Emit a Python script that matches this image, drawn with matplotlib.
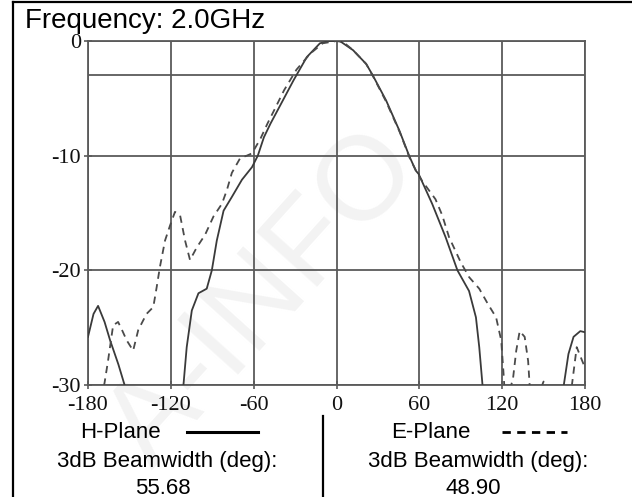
import matplotlib.pyplot as plt
from matplotlib.lines import Line2D

# H-plane (solid) pattern, dB vs angle in degrees
h_angle = [-180, -176, -172.7, -168, -164, -158, -153, -140, -120, -111, -108.5,
           -104.8, -100, -94, -90.3, -86.7, -81.8, -75.8, -68.5, -61.2, -57,
           -52.6, -47.8, -40.7, -31, -21.5, -12, -5, 2.4, 12, 21.5, 26.3, 36,
           45.5, 52.6, 57.4, 59.5, 69.3, 79, 87.6, 96, 101, 103.4, 105.9, 120,
           150, 164.4, 168, 171.7, 176.6, 180]
h_db = [-25.8, -23.8, -23.1, -24.5, -26.1, -28.2, -30.2, -36, -36, -30.2, -26.7,
        -23.5, -22.0, -21.6, -20.0, -17.4, -14.8, -13.6, -12.1, -11.0, -10.0,
        -8.4, -7.2, -5.6, -3.4, -1.4, -0.2, 0, 0, -0.8, -2.0, -3.0, -5.2,
        -7.8, -10.0, -11.3, -11.6, -14.2, -17.1, -20.0, -21.8, -24.1, -26.7, -30.2, -36,
        -36, -30.2, -27.3, -25.8, -25.3, -25.4]

# E-plane (dashed) pattern
e_angle = [-180, -170, -168, -165.5, -161.8, -158.2, -155, -152, -147.3, -143.6,
           -137.6, -132.7, -130.3, -127.9, -124.2, -120.6, -117, -113.3, -109.7,
           -106.1, -101.2, -95.2, -89.1, -83, -79.4, -75.8, -69.7, -65, -61.2,
           -55, -50, -45, -38, -29, -19, -10, 0, 5, 12, 21.5, 27, 36, 46, 53, 58,
           62, 71.7, 76.6, 81.5, 90, 96.1, 103.4, 109.5, 115.6, 119.3, 121, 122,
           124, 127.8, 130.2, 132.7, 136.3, 138.8, 140, 145, 148, 150, 152, 160,
           170, 174, 180]
e_db = [-33, -31, -29.8, -27.9, -24.8, -24.5, -25.3, -26.1, -27.0, -25.2,
        -23.8, -23.2, -21.5, -19.7, -17.4, -16.1, -14.9, -15.2, -17.4,
        -19.1, -18.0, -16.9, -15.3, -14.2, -13.0, -11.5, -10.2, -10.0, -9.8,
        -8.5, -7.2, -6.0, -4.3, -2.5, -1.1, -0.2, 0, -0.1, -0.8, -2.0, -3.2, -5.3, -8.0, -10.2, -11.4,
        -12.2, -13.8, -15.2, -17.1, -19.3, -20.6, -21.6, -22.9, -24.1, -26.1, -29, -31,
        -31, -29.5, -27.0, -25.3, -25.8, -27.9, -30.2, -31, -30.3, -29.7, -30.3, -32,
        -30.5, -26.7, -28.5]

x_ticks = [-180, -120, -60, 0, 60, 120, 180]
y_ticks = [-30, -20, -10, 0]

W, H = 632, 497
fig = plt.figure(figsize=(W / 100, H / 100), dpi=100)

def fx(px):
    return px / W

def fy(py):
    return 1 - py / H

# faint watermark behind everything
fig.text(fx(265), fy(300), "A-INFO", fontsize=86, color="#f3f3f3",
         rotation=48, ha="center", va="center", family="Liberation Sans", zorder=-5)

ax = fig.add_axes([fx(88), fy(385), fx(585 - 88), (385 - 41) / H])
ax.set_facecolor("none")

grid_col = "#5a5a5a"
for xv in x_ticks:
    ax.axvline(xv, color=grid_col, lw=1.3, zorder=1)
for yv in y_ticks + [-3]:
    ax.axhline(yv, color=grid_col, lw=1.3, zorder=1)

ax.plot(h_angle, h_db, color="#3a3a3a", lw=1.3, zorder=3)
ax.plot(e_angle, e_db, color="#4a4a4a", lw=1.3, ls=(0, (4, 3)), zorder=3)

ax.set_xlim(-180, 180)
ax.set_ylim(-30, 0)
ax.set_xticks(x_ticks, [str(v) for v in x_ticks])
ax.set_yticks(y_ticks, [str(v) for v in y_ticks])
ax.tick_params(direction="inout", length=6, width=1.2, color=grid_col,
               labelsize=16, labelcolor="#111111", labelfontfamily="Liberation Serif")
ax.tick_params(axis="x", pad=5)
ax.tick_params(axis="y", pad=2)
for s in ax.spines.values():
    s.set_color(grid_col)
    s.set_linewidth(1.3)

# outer border (left and top)
fig.add_artist(Line2D([fx(13), fx(13)], [0, fy(2)], color="black", lw=1.6))
fig.add_artist(Line2D([fx(13), 1], [fy(2), fy(2)], color="black", lw=1.6))

# divider between the two legend columns
fig.add_artist(Line2D([fx(322.5), fx(322.5)], [0, fy(416)], color="black", lw=1.6))

font = dict(family="Liberation Sans", fontsize=16, color="black")
fig.text(fx(25), fy(28), "Frequency: 2.0GHz", ha="left", va="baseline",
         family="Liberation Sans", fontsize=20)

fig.text(fx(120), fy(432), "H-Plane", ha="center", va="center", **font)
fig.add_artist(Line2D([fx(187), fx(258)], [fy(432), fy(432)], color="black", lw=2.2))
fig.text(fx(167), fy(461), "3dB Beamwidth (deg):", ha="center", va="center", **font)
fig.text(fx(163), fy(488), "55.68", ha="center", va="center", **font)

fig.text(fx(431), fy(432), "E-Plane", ha="center", va="center", **font)
fig.add_artist(Line2D([fx(502), fx(567)], [fy(432), fy(432)], color="black", lw=2,
                      ls=(0, (3, 2.3))))
fig.text(fx(478), fy(461), "3dB Beamwidth (deg):", ha="center", va="center", **font)
fig.text(fx(473), fy(488), "48.90", ha="center", va="center", **font)

fig.savefig("out.png", dpi=100)
